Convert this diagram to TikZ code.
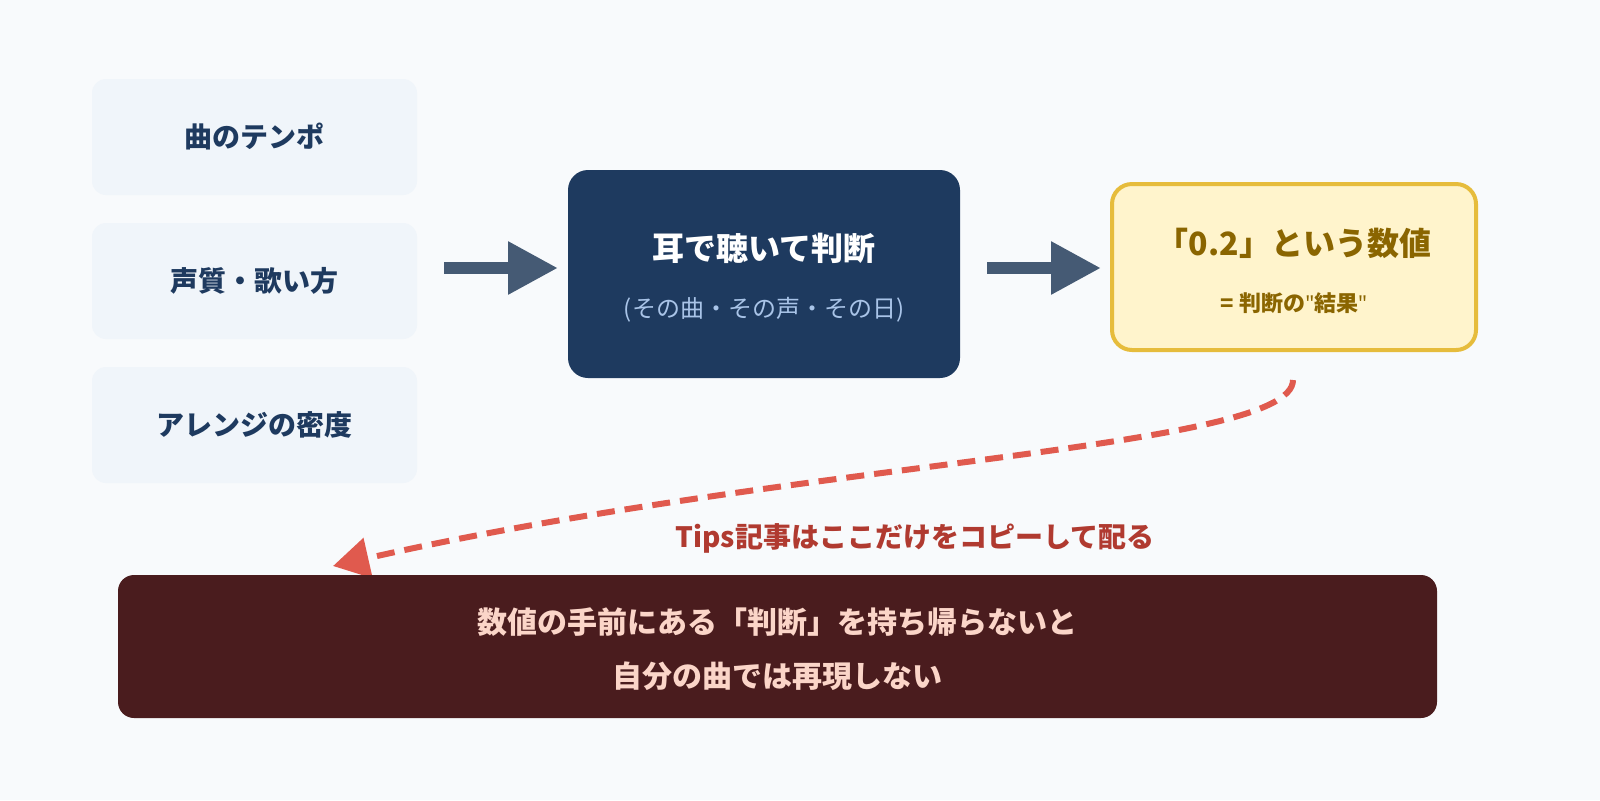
\documentclass[tikz,border=0pt]{standalone}
\usepackage{fontspec}
\setmainfont{Noto Sans CJK JP}
\newfontfamily\latq{Noto Sans}[Ligatures=NoCommon]
\usetikzlibrary{arrows.meta}
\definecolor{bg}{HTML}{F8FAFC}
\definecolor{lbox}{HTML}{F0F5FA}
\definecolor{navy}{HTML}{1E3A5F}
\definecolor{arr}{HTML}{455A74}
\definecolor{sub}{HTML}{A9C4E8}
\definecolor{yfill}{HTML}{FFF4CC}
\definecolor{ybord}{HTML}{E6BC3C}
\definecolor{ytext}{HTML}{8A6500}
\definecolor{red}{HTML}{E05A4E}
\definecolor{redt}{HTML}{B03A30}
\definecolor{bfill}{HTML}{4A1C1E}
\definecolor{btext}{HTML}{FBD5C8}
\begin{document}
\begin{tikzpicture}[x=0.5pt,y=-0.5pt,
 lb/.style={fill=lbox,rounded corners=7pt,minimum width=162.5pt,minimum height=58pt,inner sep=0pt,text=navy,font=\bfseries\fontsize{14}{16}\selectfont},
 fat/.style={draw=arr,line width=6pt,-{Triangle[length=25pt,width=25pt]}}]
\useasboundingbox (0,0) rectangle (1600,800);
\fill[bg] (0,0) rectangle (1600,800);
\node[lb] (a) at (254.5,137) {曲のテンポ};
\node[lb] (b) at (254.5,281) {声質・歌い方};
\node[lb] (c) at (254.5,425) {アレンジの密度};
\node[fill=navy,rounded corners=10pt,minimum width=196pt,minimum height=104pt] (m) at (764,274) {};
\node[text=white,font=\bfseries\fontsize{16}{18}\selectfont] (mt) at (764,248) {耳で聴いて判断};
\node[text=sub,font=\fontsize{12}{14}\selectfont] (ms) at (764,310) {(その曲・その声・その日)};
\node[fill=yfill,draw=ybord,line width=2pt,rounded corners=10pt,minimum width=182pt,minimum height=83pt] (y) at (1294,267) {};
\node[text=ytext,font=\bfseries\fontsize{16}{18}\selectfont] (yt) at (1294,243) {「0.2」という数値};
\node[text=ytext,font=\bfseries\fontsize{11}{13}\selectfont] (ys) at (1294,303) {= 判断の{\latq\symbol{34}}結果{\latq\symbol{34}}};
\coordinate (a1s) at (444,268); \coordinate (a1e) at (558,268);
\coordinate (a2s) at (987,268); \coordinate (a2e) at (1101,268);
\draw[fat] (a1s) -- (a1e);
\draw[fat] (a2s) -- (a2e);
\coordinate (ds) at (1293,380); \coordinate (de) at (333,566);
\draw[red,line width=3pt,dash pattern=on 9pt off 5pt,-{Triangle[length=18pt,width=20pt]}] (ds) .. controls (1293,450) and (800,460) .. (de);
\node[text=redt,font=\bfseries\fontsize{14}{16}\selectfont] (tl) at (915,538) {Tips記事はここだけをコピーして配る};
\node[fill=bfill,rounded corners=8pt,minimum width=659.5pt,minimum height=71.5pt] (bb) at (777.5,646.5) {};
\node[text=btext,font=\bfseries\fontsize{15}{27}\selectfont,align=center] (bt) at (777.5,649) {数値の手前にある「判断」を持ち帰らないと\\自分の曲では再現しない};
\end{tikzpicture}
\end{document}
